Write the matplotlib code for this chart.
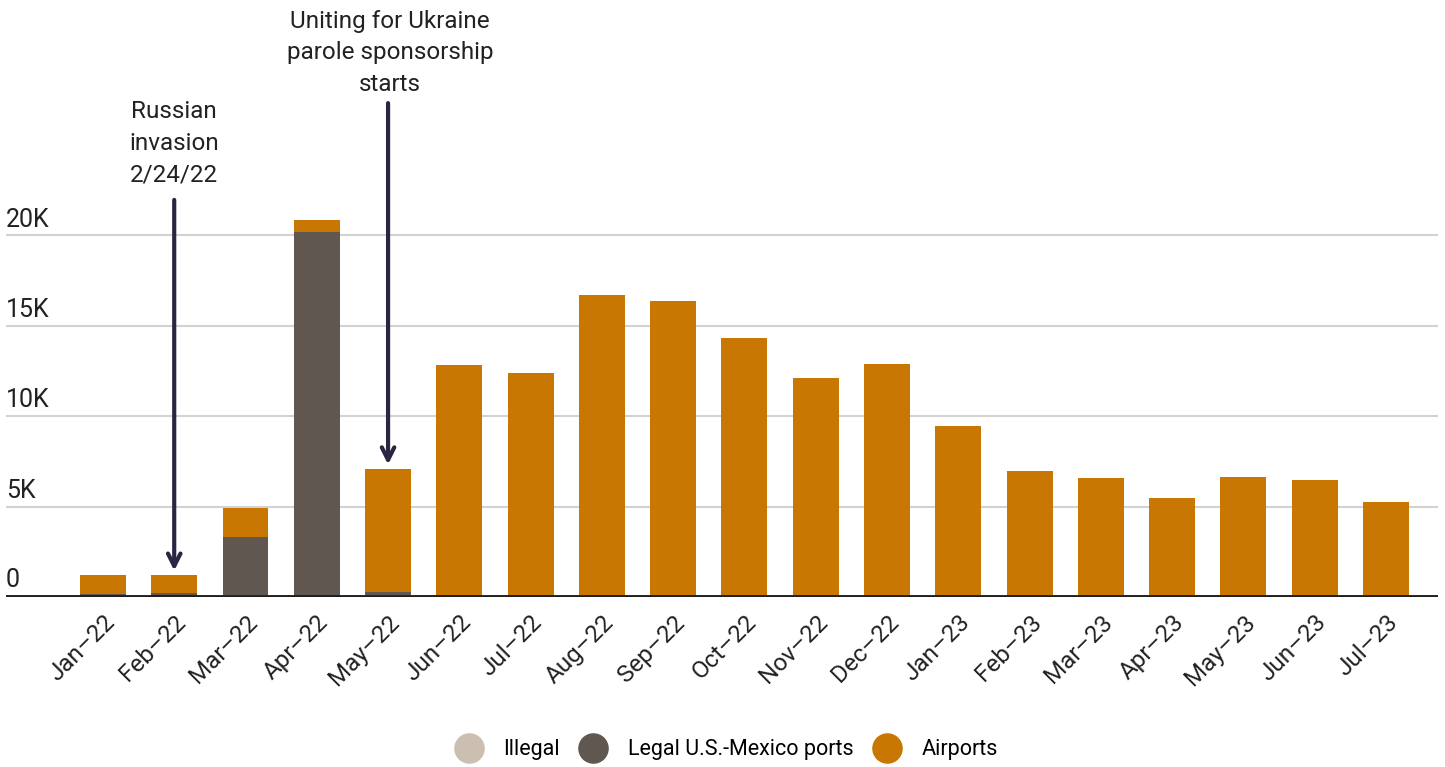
import matplotlib
matplotlib.use('Agg')
import matplotlib.pyplot as plt
import numpy as np

plt.rcParams['font.family'] = ['Roboto', 'DejaVu Sans']

months = ['Jan–22', 'Feb–22', 'Mar–22', 'Apr–22', 'May–22', 'Jun–22', 'Jul–22',
          'Aug–22', 'Sep–22', 'Oct–22', 'Nov–22', 'Dec–22', 'Jan–23', 'Feb–23',
          'Mar–23', 'Apr–23', 'May–23', 'Jun–23', 'Jul–23']
illegal = [60, 80, 100, 20, 100, 30, 30, 20, 20, 20, 20, 20, 20, 20, 20, 20, 20, 20, 20]
legal_ports = [90, 130, 3200, 20150, 200, 80, 80, 40, 40, 20, 40, 20, 40, 30, 40, 30, 30, 40, 30]
airports = [1050, 990, 1600, 650, 6770, 12690, 12290, 16640, 16290, 14260, 12040, 12860,
            9390, 6910, 6510, 5420, 6580, 6400, 5200]
yticks = [0, 5000, 10000, 15000, 20000]
ytick_labels = ['0', '5K', '10K', '15K', '20K']

c_illegal = '#cbbfb1'
c_legal = '#5f5750'
c_air = '#c87702'
c_arrow = '#2a2540'

fig = plt.figure(figsize=(14.45, 7.67), dpi=100)
ax = fig.add_axes([6/1445, 170/767, 1432/1445, 579/767])

x = np.arange(len(months))
w = 0.645
ill = np.array(illegal)
leg = np.array(legal_ports)
air = np.array(airports)
ax.bar(x, ill, w, color=c_illegal, zorder=2)
ax.bar(x, leg, w, bottom=ill, color=c_legal, zorder=2)
ax.bar(x, air, w, bottom=ill + leg, color=c_air, zorder=2)

ax.set_xlim(-1.36, 18.73)
ax.set_ylim(0, 32000)

for v, lab in zip(yticks, ytick_labels):
    if v > 0:
        ax.axhline(v, color='#d2d2d2', lw=1.5, zorder=1)
    ax.text(-1.36, v + (200 if v > 0 else 250), lab, fontsize=18, color='#222222',
            ha='left', va='bottom')
ax.axhline(0, color='#1e1e1e', lw=3.5, zorder=3)

ax.set_yticks([])
ax.set_xticks(x)
ax.set_xticklabels(months, rotation=45, ha='right', rotation_mode='anchor',
                   fontsize=17.5, color='#222222')
ax.tick_params(axis='x', length=0, pad=10)
for s in ax.spines.values():
    s.set_visible(False)

# annotations
tot = ill + leg + air
ax.annotate('', xy=(1, tot[1] + 100), xytext=(1, 22100),
            arrowprops=dict(arrowstyle='->,head_length=0.9,head_width=0.45',
                            color=c_arrow, lw=3), zorder=4)
ax.text(1, 22700, 'Russian\ninvasion\n2/24/22', ha='center', va='bottom',
        fontsize=17.5, color='#222222', linespacing=1.47)
ax.annotate('', xy=(4, tot[4] + 100), xytext=(4, 27450),
            arrowprops=dict(arrowstyle='->,head_length=0.9,head_width=0.45',
                            color=c_arrow, lw=3), zorder=4)
ax.text(4.03, 27700, 'Uniting for Ukraine\nparole sponsorship\nstarts', ha='center',
        va='bottom', fontsize=17.5, color='#222222', linespacing=1.47)

# legend
handles = [plt.Line2D([], [], marker='o', ls='', markersize=21, color=c)
           for c in (c_illegal, c_legal, c_air)]
fig.legend(handles, ['Illegal', 'Legal U.S.-Mexico ports', 'Airports'],
           loc='center', bbox_to_anchor=(0.5, 1 - 750/767), ncol=3, frameon=False,
           fontsize=15.5, handletextpad=0.6, columnspacing=0.55)

fig.savefig('out.png', dpi=100)
